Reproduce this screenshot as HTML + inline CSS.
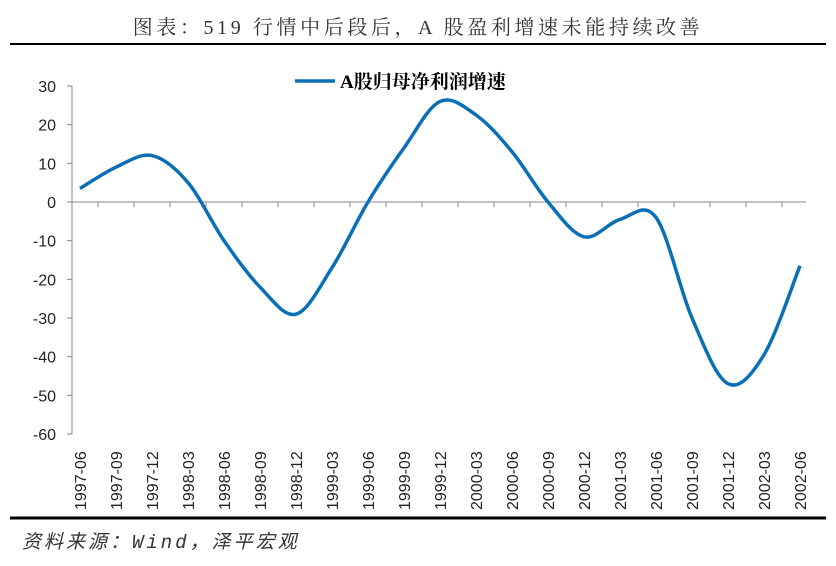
<!DOCTYPE html>
<html><head><meta charset="utf-8"><style>
body{margin:0;background:#fff;width:836px;height:561px;overflow:hidden;font-family:"Liberation Sans","Noto Sans CJK SC",sans-serif}
</style></head><body>
<svg width="836" height="561" xmlns="http://www.w3.org/2000/svg">
<text x="418" y="34" text-anchor="middle" font-size="20" letter-spacing="3.6" fill="#333" font-family="Liberation Serif,'Noto Serif CJK SC',serif">图表：519 行情中后段后，A 股盈利增速未能持续改善</text>
<line x1="10" y1="44" x2="826" y2="44" stroke="#000" stroke-width="2"/>
<g id="yaxis"></g>
<g id="xaxis"></g>
<path id="line" fill="none" stroke="#0a6fb4" stroke-width="3.5"/>
<g>
<line x1="295" y1="81" x2="335" y2="81" stroke="#0a6fb4" stroke-width="3.5"/>
<text x="340" y="88" font-size="19" font-weight="bold" fill="#000" font-family="'Liberation Serif','Noto Serif CJK SC',serif">A股归母净利润增速</text>
</g>
<line x1="10" y1="518" x2="826" y2="518" stroke="#000" stroke-width="3"/>
<text x="22" y="548" font-size="19" font-style="italic" letter-spacing="3" fill="#333" font-family="'Liberation Mono','Noto Sans CJK SC',monospace">资料来源：Wind，泽平宏观</text>
</svg>
<script>
const categories=["1997-06","1997-09","1997-12","1998-03","1998-06","1998-09","1998-12","1999-03","1999-06","1999-09","1999-12","2000-03","2000-06","2000-09","2000-12","2001-03","2001-06","2001-09","2001-12","2002-03","2002-06"];
const values=[3.5,9,12,5,-10,-22,-29,-17,0,14,26,22.5,13,0,-9,-4.5,-4,-30,-47,-39.5,-16.5];
const yTicks=[30,20,10,0,-10,-20,-30,-40,-50,-60];
const NS="http://www.w3.org/2000/svg";
function X(i){return 80+i*36;}
function Y(v){return 202-v*3.8667;}
const ya=document.getElementById('yaxis');
const ax=document.createElementNS(NS,'line');
ax.setAttribute('x1',72);ax.setAttribute('x2',72);ax.setAttribute('y1',Y(30));ax.setAttribute('y2',Y(-60));ax.setAttribute('stroke','#888');


ya.appendChild(ax);
yTicks.forEach(t=>{
 const l=document.createElementNS(NS,'line');
 l.setAttribute('x1',67);l.setAttribute('x2',72);l.setAttribute('y1',Y(t));l.setAttribute('y2',Y(t));l.setAttribute('stroke','#888');
 
 
 ya.appendChild(l);
 const tx=document.createElementNS(NS,'text');
 tx.setAttribute('x',56);tx.setAttribute('y',Y(t)+6);tx.setAttribute('text-anchor','end');tx.setAttribute('font-size','16');tx.setAttribute('fill','#222');
 tx.textContent=t;
 
 
 ya.appendChild(tx);
});
const xa=document.getElementById('xaxis');
const zl=document.createElementNS(NS,'line');
zl.setAttribute('x1',72);zl.setAttribute('x2',806);zl.setAttribute('y1',Y(0));zl.setAttribute('y2',Y(0));zl.setAttribute('stroke','#888');


xa.appendChild(zl);
categories.forEach((c,i)=>{
 if(i>0){
 const l=document.createElementNS(NS,'line');
 const xx=X(i)-18;
 l.setAttribute('x1',xx);l.setAttribute('x2',xx);l.setAttribute('y1',Y(0));l.setAttribute('y2',Y(0)+5);l.setAttribute('stroke','#888');
 
 
 xa.appendChild(l);
 }
 const tx=document.createElementNS(NS,'text');
 tx.setAttribute('transform','translate('+(X(i)+6)+',510) rotate(-90)');
 tx.setAttribute('font-size','16');tx.setAttribute('fill','#222');
 tx.textContent=c;
 
 
 xa.appendChild(tx);
});
const pts=values.map((v,i)=>[X(i),Y(v)]);
let d='M'+pts[0][0]+','+pts[0][1];
for(let i=0;i<pts.length-1;i++){
 const p0=pts[Math.max(0,i-1)],p1=pts[i],p2=pts[i+1],p3=pts[Math.min(pts.length-1,i+2)];
 const c1=[p1[0]+(p2[0]-p0[0])/6,p1[1]+(p2[1]-p0[1])/6];
 const c2=[p2[0]-(p3[0]-p1[0])/6,p2[1]-(p3[1]-p1[1])/6];
 d+=' C'+c1+' '+c2+' '+p2;
}
document.getElementById('line').setAttribute('d',d);
</script>
</body></html>
